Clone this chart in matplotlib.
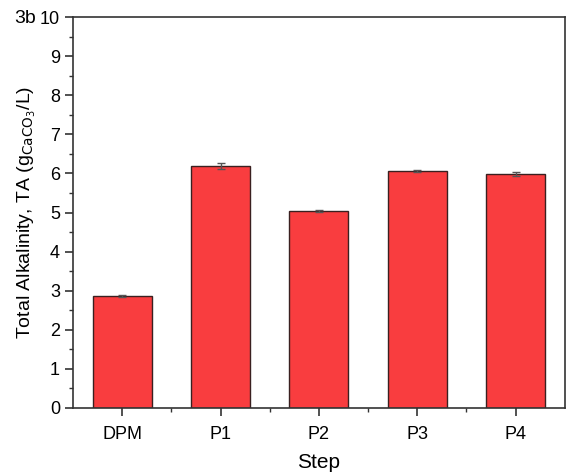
import matplotlib
matplotlib.use("Agg")
import matplotlib.pyplot as plt
from matplotlib.ticker import MultipleLocator

# data
steps = ["DPM", "P1", "P2", "P3", "P4"]
alkalinity = [2.86, 6.19, 5.04, 6.06, 5.99]
errors = [0.03, 0.07, 0.02, 0.02, 0.05]

plt.rcParams["font.family"] = ["Liberation Sans", "DejaVu Sans"]

fig = plt.figure(figsize=(5.67, 4.76), dpi=100)
ax = fig.add_axes([0.129, 0.143, 0.867, 0.821])

x = list(range(len(steps)))
ax.bar(x, alkalinity, width=0.6, color="#f93d3f", edgecolor="#3a2020",
       linewidth=1.0, yerr=errors, capsize=3,
       error_kw=dict(ecolor="#555555", elinewidth=1.0, capthick=1.0))

ax.set_xlim(-0.5, 4.5)
ax.set_ylim(0, 10)
ax.set_xticks(x)
ax.set_xticklabels(steps)
ax.yaxis.set_major_locator(MultipleLocator(1))
ax.yaxis.set_minor_locator(MultipleLocator(0.5))
ax.set_xticks([i + 0.5 for i in x[:-1]], minor=True)

ax.tick_params(axis="both", which="major", direction="out", length=6,
               width=1.2, labelsize=13, color="#333333")
ax.tick_params(axis="x", which="major", pad=7)
ax.tick_params(axis="both", which="minor", direction="out", length=3,
               width=1.0, color="#333333")
for s in ax.spines.values():
    s.set_linewidth(1.2)
    s.set_color("#333333")

ax.set_xlabel("Step", fontsize=15, labelpad=7)
ax.set_ylabel(r"Total Alkalinity, TA (g$_{\mathrm{CaCO_3}}$/L)", fontsize=14,
              labelpad=1)
fig.text(0.025, 0.962, "3b", fontsize=14, va="center", ha="left")

fig.savefig("out.png", dpi=100)
